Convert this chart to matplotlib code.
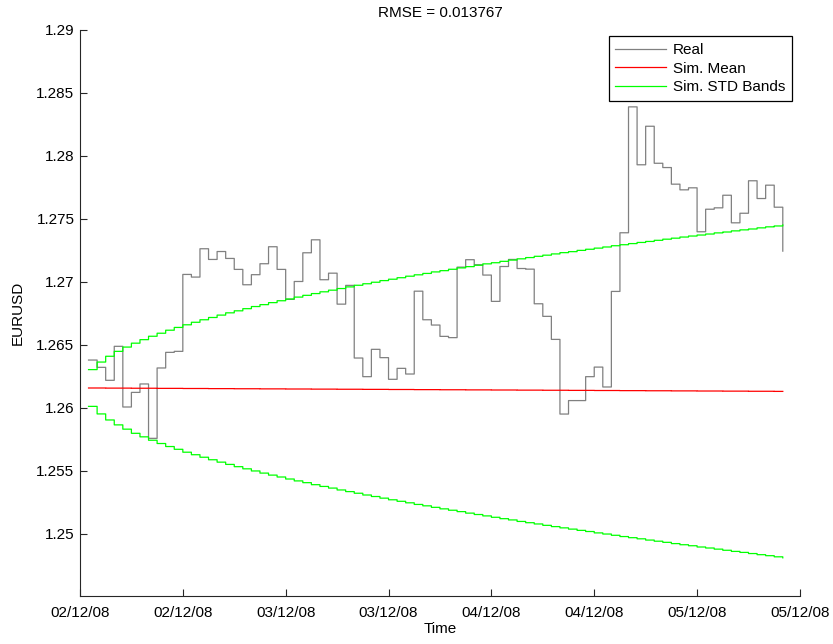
import numpy as np
import pandas as pd
import matplotlib
matplotlib.use('Agg')
import matplotlib.pyplot as plt
import matplotlib.dates as mdates

plt.rcParams['font.family'] = ['Liberation Sans', 'DejaVu Sans']

# hourly EURUSD closes, 02/12/08 01:00 onwards
real = [1.26378, 1.26320, 1.26217, 1.26487, 1.26005, 1.26121, 1.26188, 1.25756, 1.26315, 1.26439,
        1.26447, 1.27058, 1.27037, 1.27262, 1.27177, 1.27240, 1.27185, 1.27098, 1.26976, 1.27056,
        1.27143, 1.27278, 1.27098, 1.26860, 1.27002, 1.27230, 1.27333, 1.27016, 1.27068, 1.26822,
        1.26971, 1.26394, 1.26246, 1.26463, 1.26397, 1.26225, 1.26312, 1.26267, 1.26925, 1.26698,
        1.26656, 1.26566, 1.26556, 1.27116, 1.27175, 1.27135, 1.27053, 1.26844, 1.27121, 1.27177,
        1.27105, 1.27100, 1.26825, 1.26725, 1.26542, 1.25949, 1.26056, 1.26056, 1.26246, 1.26322,
        1.26164, 1.26923, 1.27389, 1.28389, 1.27929, 1.28235, 1.27941, 1.27907, 1.27775, 1.27730,
        1.27746, 1.27397, 1.27576, 1.27587, 1.27687, 1.27468, 1.27544, 1.27802, 1.27661, 1.27767,
        1.27592, 1.27243]

# simulated mean path
sim_mean = [1.26156, 1.26156, 1.26155, 1.26155, 1.26155, 1.26154, 1.26154, 1.26154, 1.26153, 1.26153,
            1.26153, 1.26152, 1.26152, 1.26152, 1.26151, 1.26151, 1.26151, 1.26150, 1.26150, 1.26150,
            1.26149, 1.26149, 1.26149, 1.26148, 1.26148, 1.26148, 1.26147, 1.26147, 1.26147, 1.26146,
            1.26146, 1.26146, 1.26145, 1.26145, 1.26145, 1.26144, 1.26144, 1.26144, 1.26143, 1.26143,
            1.26143, 1.26142, 1.26142, 1.26142, 1.26141, 1.26141, 1.26141, 1.26140, 1.26140, 1.26140,
            1.26139, 1.26139, 1.26139, 1.26138, 1.26138, 1.26138, 1.26137, 1.26137, 1.26137, 1.26136,
            1.26136, 1.26136, 1.26135, 1.26135, 1.26135, 1.26134, 1.26134, 1.26134, 1.26133, 1.26133,
            1.26133, 1.26132, 1.26132, 1.26132, 1.26131, 1.26131, 1.26131, 1.26130, 1.26130, 1.26130,
            1.26129, 1.26129]

# simulated standard deviation
sim_std = [0.00146, 0.00206, 0.00253, 0.00292, 0.00326, 0.00358, 0.00386, 0.00413, 0.00438, 0.00462,
           0.00484, 0.00506, 0.00526, 0.00546, 0.00565, 0.00584, 0.00602, 0.00619, 0.00636, 0.00653,
           0.00669, 0.00685, 0.00700, 0.00715, 0.00730, 0.00744, 0.00759, 0.00773, 0.00786, 0.00800,
           0.00813, 0.00826, 0.00839, 0.00851, 0.00864, 0.00876, 0.00888, 0.00900, 0.00912, 0.00923,
           0.00935, 0.00946, 0.00957, 0.00968, 0.00979, 0.00990, 0.01001, 0.01011, 0.01022, 0.01032,
           0.01043, 0.01053, 0.01063, 0.01073, 0.01083, 0.01093, 0.01102, 0.01112, 0.01121, 0.01131,
           0.01140, 0.01150, 0.01159, 0.01168, 0.01177, 0.01186, 0.01195, 0.01204, 0.01213, 0.01222,
           0.01230, 0.01239, 0.01247, 0.01256, 0.01264, 0.01273, 0.01281, 0.01289, 0.01298, 0.01306,
           0.01314, 0.01322]

yticks = [1.25, 1.255, 1.26, 1.265, 1.27, 1.275, 1.28, 1.285, 1.29]
rmse = 0.013767

t = pd.date_range('2008-12-02 01:00', periods=len(real), freq='h')
mean = np.array(sim_mean)
std = np.array(sim_std)

fig = plt.figure(figsize=(8.33, 6.44), dpi=100)
ax = fig.add_axes([0.096, 0.0738, 0.8643, 0.8797])

lw = 0.9
ax.step(t, real, where='post', color='0.5', lw=lw, snap=False, label='Real')
ax.step(t, mean, where='post', color='r', lw=lw, snap=False, label='Sim. Mean')
ax.step(t, mean + std, where='post', color='#00ff00', lw=lw, snap=False, label='Sim. STD Bands')
ax.step(t, mean - std, where='post', color='#00ff00', lw=lw, snap=False)

ax.set_xlim(pd.Timestamp('2008-12-02 00:00'), pd.Timestamp('2008-12-05 12:00'))
ax.xaxis.set_major_locator(mdates.HourLocator(byhour=[0, 12]))
ax.xaxis.set_major_formatter(mdates.DateFormatter('%d/%m/%y'))
ax.set_ylim(1.245, 1.29)
ax.set_yticks(yticks)
ax.set_yticklabels(['%g' % v for v in yticks])

for s in ['top', 'right']:
    ax.spines[s].set_visible(False)
for s in ['left', 'bottom']:
    ax.spines[s].set_linewidth(0.8)
    ax.spines[s].set_color('0.15')
ax.tick_params(direction='in', length=5, width=0.8, color='0.15', labelsize=11)
ax.tick_params(axis='x', pad=6.5)
ax.tick_params(axis='y', pad=4)

ax.set_title('RMSE = %g' % rmse, fontsize=11, pad=9.5)
ax.set_xlabel('Time', fontsize=11)
ax.set_ylabel('EURUSD', fontsize=11)
ax.xaxis.set_label_coords(0.5, -0.045)
ax.yaxis.set_label_coords(-0.077, 0.5)

leg = ax.legend(loc='upper right', bbox_to_anchor=(0.989, 0.989), borderaxespad=0,
                fontsize=11, fancybox=False, framealpha=1, edgecolor='k',
                handlelength=3.3, handletextpad=0.45, labelspacing=0.3, borderpad=0.45)
leg.get_frame().set_linewidth(0.9)

fig.savefig('out.png', dpi=100)
